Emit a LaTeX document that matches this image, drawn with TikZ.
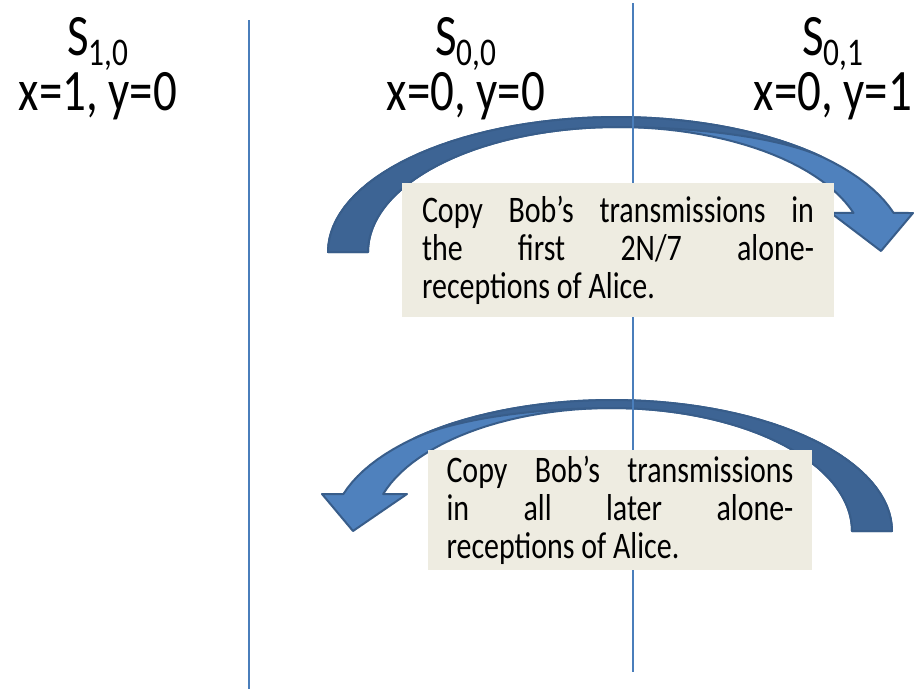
\documentclass[tikz,border=0pt]{standalone}
\usepackage{fontspec}
\setmainfont{Carlito}[FakeStretch=0.8]
\usepackage{tikz}
\usetikzlibrary{positioning}
\definecolor{arl}{RGB}{79,129,189}
\definecolor{ard}{RGB}{61,100,148}
\definecolor{aro}{RGB}{56,93,138}
\definecolor{tan}{RGB}{238,236,225}
\definecolor{sep}{RGB}{74,126,187}
\newcommand{\lowidx}[1]{\raisebox{-0.18em}{\fontsize{29.4pt}{29.4pt}\selectfont #1}}
\tikzset{
  hdr/.style={align=center,inner sep=0pt,anchor=north,font=\fontsize{44pt}{32.5pt}\selectfont},
  note/.style={fill=tan,inner ysep=0pt,align=justify,font=\fontsize{28.1pt}{28.5pt}\selectfont},
  band/.style={draw=aro,line width=1.5pt,line join=round}
}

\begin{document}
\begin{tikzpicture}[x=0.75pt,y=-0.75pt]
  \useasboundingbox (0,0) rectangle (918,689);
  % upper arrow: full body, then the darker back
  \draw[band,fill=arl] plot[domain=180:343.2,samples=60] ({617+289*cos(\x)},{252+135*sin(\x)}) -- (913,213) -- (881,251) -- (831,213) -- plot[domain=341.8:180,samples=60] ({617+249*cos(\x)},{252+125*sin(\x)}) -- cycle;
  \draw[band,fill=ard] plot[domain=180:315,samples=50] ({617+289*cos(\x)},{252+135*sin(\x)}) .. controls (780,138) and (700,127) .. (617,127) -- plot[domain=270:180,samples=40] ({617+249*cos(\x)},{252+125*sin(\x)}) -- cycle;
  % lower arrow
  \draw[band,fill=arl] plot[domain=360:196.4,samples=60] ({612+280*cos(\x)},{531+131*sin(\x)}) -- (322,494) -- (353,531) -- (407,494) -- plot[domain=197.5:360,samples=60] ({612+240*cos(\x)},{531+123*sin(\x)}) -- cycle;
  \draw[band,fill=ard] plot[domain=360:225,samples=50] ({612+280*cos(\x)},{531+131*sin(\x)}) .. controls (455,419) and (535,408) .. (612,408) -- plot[domain=270:360,samples=40] ({612+240*cos(\x)},{531+123*sin(\x)}) -- cycle;
  % separators
  \draw[sep,line width=1.5pt] (249,20) -- (249,689);
  \draw[sep,line width=1.5pt] (633,3) -- (633,672);
  % text boxes
  \node[note,text width=294pt,inner xsep=15pt,minimum height=100.5pt] (first) at (618,250)
    {Copy Bob’s transmissions in\linebreak the first 2N/7 alone-\linebreak receptions of Alice.};
  \node[note,text width=260.25pt,inner xsep=13.9pt,minimum height=90pt] (later) at (620,510)
    {Copy Bob’s transmissions\linebreak in all later alone-\linebreak receptions of Alice.};
  % states
  \node[hdr] (s10) at (98,17) {S\lowidx{1,0}\\x=1, y=0};
  \node[hdr] (s00) at (466,17) {S\lowidx{0,0}\\x=0, y=0};
  \node[hdr] (s01) at (833,17) {S\lowidx{0,1}\\x=0, y=1};
\end{tikzpicture}
\end{document}
